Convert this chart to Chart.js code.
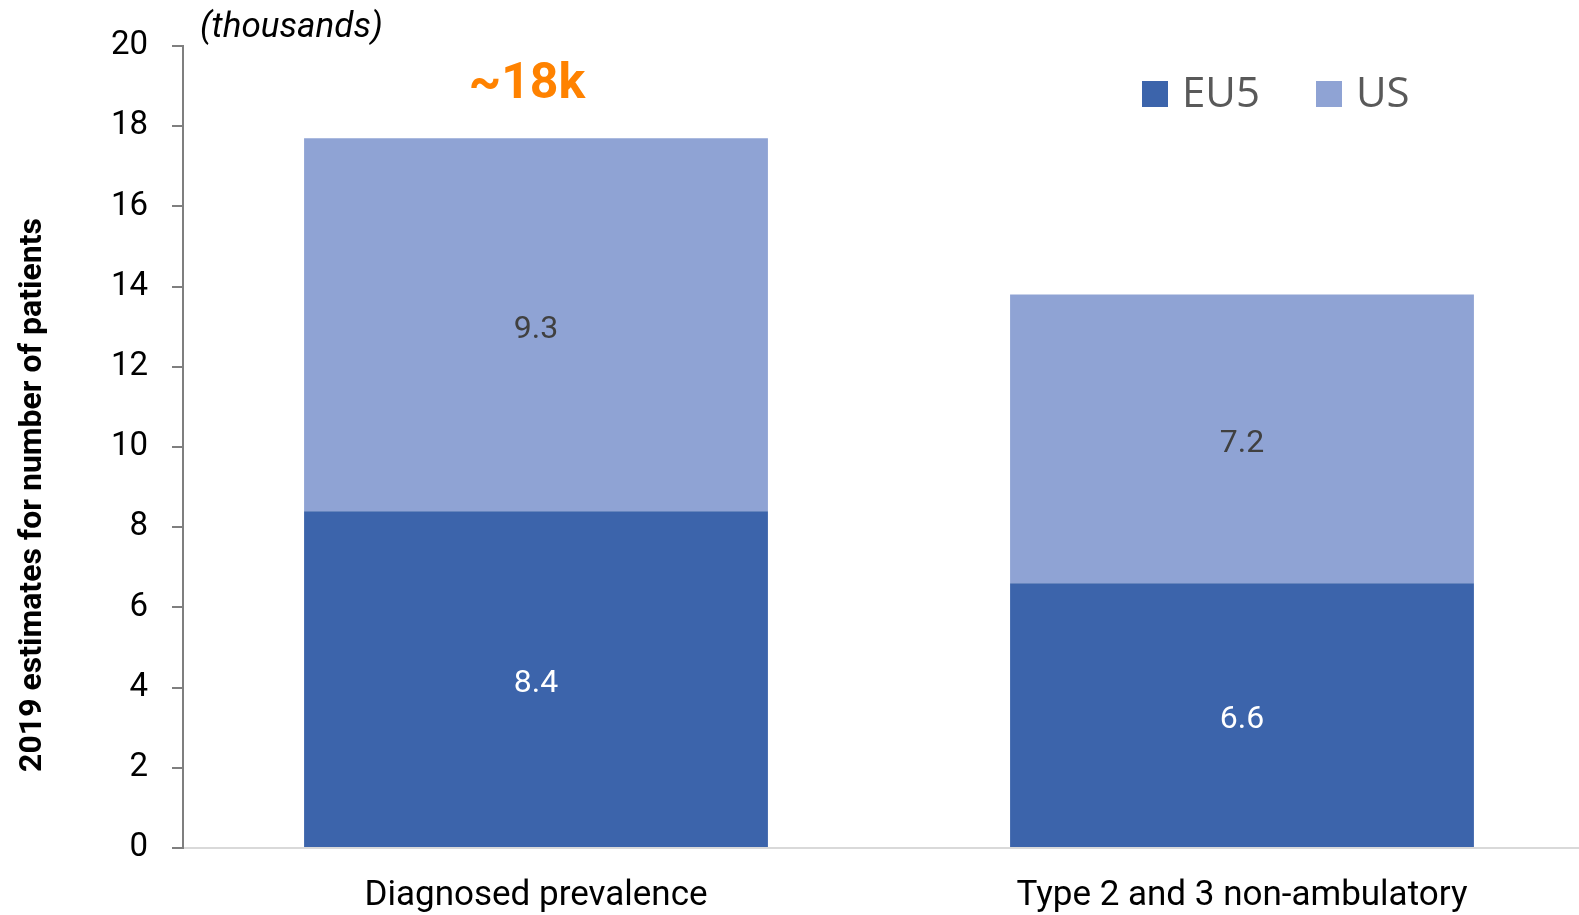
<!DOCTYPE html>
<html>
<head>
<meta charset="utf-8">
<script src="https://cdn.jsdelivr.net/npm/chart.js@4.4.1/dist/chart.umd.min.js"></script>
<style>
  html, body { margin: 0; padding: 0; background: #fff; overflow: hidden; }
  #wrap { position: absolute; left: 0; top: 0; width: 1600px; height: 915px; }
</style>
</head>
<body>
<div id="wrap"><canvas id="chart"></canvas></div>
<script>
// ── Data ─────────────────────────────────────────────────────
const categories = ["Diagnosed prevalence", "Type 2 and 3 non-ambulatory"];
const eu5Values  = [8.4, 6.6];
const usValues   = [9.3, 7.2];
const seriesNames = ["EU5", "US"];
const yTicks     = [0, 2, 4, 6, 8, 10, 12, 14, 16, 18, 20];
const yTitle     = "2019 estimates for number of patients";
const unitNote   = "(thousands)";
const totalNote  = "~18k";

const EU5_COLOR = "#3c64ab";
const US_COLOR  = "#8fa3d4";

// ── Segment value labels ─────────────────────────────────────
const segmentLabels = {
  id: "segmentLabels",
  afterDatasetsDraw(chart) {
    const ctx = chart.ctx;
    ctx.save();
    ctx.font = "32px Roboto";
    ctx.textAlign = "center";
    ctx.textBaseline = "middle";
    chart.data.datasets.forEach((ds, i) => {
      const meta = chart.getDatasetMeta(i);
      meta.data.forEach((bar, j) => {
        const mid = (bar.y + bar.base) / 2;
        ctx.fillStyle = i === 0 ? "#ffffff" : "#404040";
        ctx.fillText(ds.data[j].toFixed(1), bar.x, mid + 5);
      });
    });
    ctx.restore();
  }
};

// ── Notes, y title, legend ───────────────────────────────────
const extras = {
  id: "extras",
  afterDraw(chart) {
    const ctx = chart.ctx;
    ctx.save();

    ctx.font = "italic 35px Roboto";
    ctx.fillStyle = "#000";
    ctx.textAlign = "left";
    ctx.textBaseline = "middle";
    ctx.fillText(unitNote, 200, 28);

    // y axis title
    ctx.save();
    ctx.translate(33, 495);
    ctx.rotate(-Math.PI / 2);
    ctx.font = "bold 32px Roboto";
    ctx.textAlign = "center";
    ctx.fillText(yTitle, 0, 0);
    ctx.restore();

    const bar0 = chart.getDatasetMeta(1).data[0];
    ctx.font = "bold 50px Roboto";
    ctx.fillStyle = "#ff8200";
    ctx.textAlign = "center";
    ctx.fillText(totalNote, bar0.x - 9, 85);

    // legend
    const cols = [EU5_COLOR, US_COLOR];
    const xs = [1142, 1316];
    ctx.font = "42px 'Open Sans'";
    ctx.textAlign = "left";
    seriesNames.forEach((name, i) => {
      ctx.fillStyle = cols[i];
      ctx.fillRect(xs[i], 81, 26, 26);
      ctx.fillStyle = "#595959";
      ctx.fillText(name, xs[i] + 40, 95);
    });
    ctx.restore();
  }
};

// ── Chart ────────────────────────────────────────────────────
const ctx = document.getElementById("chart").getContext("2d");
new Chart(ctx, {
  type: "bar",
  data: {
    labels: categories,
    datasets: [
      { label: seriesNames[0], data: eu5Values, backgroundColor: EU5_COLOR },
      { label: seriesNames[1], data: usValues,  backgroundColor: US_COLOR }
    ]
  },
  options: {
    responsive: true,
    maintainAspectRatio: false,
    animation: false,
    layout: { padding: { top: 46, right: 5, left: 0, bottom: 0 } },
    plugins: { legend: { display: false }, tooltip: { enabled: false } },
    datasets: { bar: { categoryPercentage: 1, barPercentage: 0.657 } },
    scales: {
      x: {
        stacked: true,
        grid: { display: true, drawOnChartArea: false, drawTicks: false },
        border: { color: "#d9d9d9", width: 2 },
        ticks: { color: "#000", padding: 27, font: { family: "'Liberation Sans Narrow', Roboto", size: 35 } },
        afterFit(scale) { scale.height = 67; }
      },
      y: {
        stacked: true,
        min: 0, max: 20,
        afterBuildTicks(scale) { scale.ticks = yTicks.map(v => ({ value: v })); },
        grid: { drawOnChartArea: false, tickLength: 11, color: "#7f7f7f", lineWidth: 2 },
        border: { color: "#7f7f7f", width: 2 },
        ticks: { color: "#000", padding: 24, font: { family: "Roboto", size: 33, lineHeight: 1.1 } },
        afterFit(scale) { scale.width = 183; }
      }
    }
  },
  plugins: [segmentLabels, extras]
});
</script>
</body>
</html>
